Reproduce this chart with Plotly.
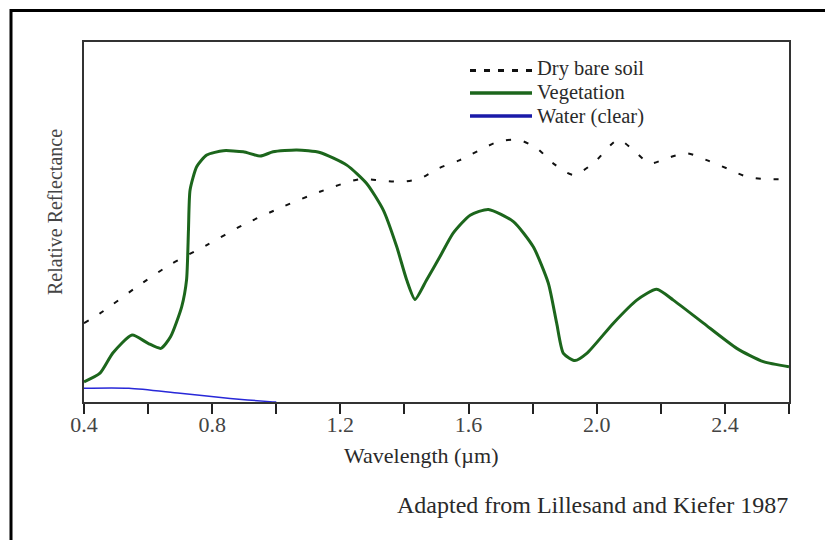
import plotly.graph_objects as go

# ---- data (wavelength in µm, relative reflectance in arbitrary units 0-100) ----
soil_wl = [0.40, 0.45, 0.559, 0.668, 0.783, 0.897, 1.022, 1.136, 1.261, 1.33, 1.391, 1.449,
           1.506, 1.573, 1.693, 1.755, 1.813, 1.864, 1.927, 1.989, 2.067, 2.114, 2.166,
           2.218, 2.281, 2.343, 2.406, 2.468, 2.535, 2.60]
soil_refl = [21.9, 24.6, 31.6, 38.1, 43.6, 49.2, 54.3, 58.4, 61.9, 61.5, 61.2, 62.1,
             64.9, 67.2, 72.3, 72.8, 70.5, 66.3, 63.1, 66.3, 72.8, 70.0, 66.3,
             67.7, 69.1, 67.2, 64.9, 62.6, 61.9, 61.9]

veg_wl = [0.40, 0.45, 0.49, 0.55, 0.60, 0.64, 0.67, 0.705, 0.72, 0.726, 0.731, 0.752, 0.783,
          0.835, 0.897, 0.95, 0.99, 1.064, 1.136, 1.22, 1.282, 1.334, 1.376, 1.407, 1.433,
          1.469, 1.511, 1.552, 1.605, 1.662, 1.74, 1.802, 1.849, 1.875, 1.896, 1.932,
          1.969, 2.052, 2.125, 2.187, 2.239, 2.333, 2.437, 2.52, 2.60]
veg_refl = [5.6, 8.0, 13.6, 18.6, 16.3, 14.9, 18.1, 26.5, 33.9, 47.8, 58.9, 65.4, 68.6,
            69.8, 69.5, 68.3, 69.5, 70.0, 69.3, 65.8, 60.7, 53.3, 43.1, 33.9, 28.5,
            33.9, 40.4, 46.9, 51.9, 53.5, 50.1, 43.1, 33.0, 21.9, 13.5, 11.5,
            13.5, 21.9, 28.3, 31.3, 28.3, 21.9, 14.9, 11.2, 9.8]

water_wl = [0.40, 0.54, 0.70, 0.856, 0.98, 1.00]
water_refl = [3.8, 3.8, 2.4, 1.0, 0.1, 0.0]

x_ticks = [0.4, 0.6, 0.8, 1.0, 1.2, 1.4, 1.6, 1.8, 2.0, 2.2, 2.4, 2.6]
x_tick_labels = ["0.4", "", "0.8", "", "1.2", "", "1.6", "", "2.0", "", "2.4", ""]

names = ["Dry bare soil", "Vegetation", "Water (clear)"]

FONT = "Liberation Serif"
TXT = "#2a2a2a"
GREEN = "#1c661c"
BLUE = "#2828d8"

fig = go.Figure()
fig.add_trace(go.Scatter(x=soil_wl, y=soil_refl, mode="lines", name=names[0],
                         line=dict(color="#111111", width=2, dash="5px,13px", shape="spline", smoothing=0.8),
                         showlegend=False, hoverinfo="skip"))
fig.add_trace(go.Scatter(x=veg_wl, y=veg_refl, mode="lines", name=names[1],
                         line=dict(color=GREEN, width=3, shape="spline", smoothing=0.6),
                         showlegend=False, hoverinfo="skip"))
fig.add_trace(go.Scatter(x=water_wl, y=water_refl, mode="lines", name=names[2],
                         line=dict(color=BLUE, width=1.5, shape="spline", smoothing=0.8),
                         showlegend=False, hoverinfo="skip"))

W, H = 833, 540
OFF = 8  # page body margin of the html page
L, R, T, B = 84, 789, 42, 402  # plot area in screenshot pixels


def px(xp):
    return (xp - L) / (R - L)


def py(yp):
    return (B - yp) / (B - T)


shapes = []
# outer frame (cut off at right and bottom in the reference)
shapes.append(dict(type="rect", xref="paper", yref="paper",
                   x0=px(11), x1=px(860), y0=py(580), y1=py(10.5),
                   line=dict(color="#000000", width=3), layer="above"))
# custom legend symbols
leg_y = [70.5, 93, 116]
leg_styles = [dict(color="#111111", width=3, dash="6px,8px"),
              dict(color=GREEN, width=3.5),
              dict(color="#1a1aa8", width=3.5)]
for yy, st in zip(leg_y, leg_styles):
    shapes.append(dict(type="line", xref="paper", yref="paper",
                       x0=px(470), x1=px(532), y0=py(yy), y1=py(yy), line=st))

annotations = []
text_y = [69, 92.5, 116]
for name, yy in zip(names, text_y):
    annotations.append(dict(text=name, xref="paper", yref="paper", x=px(535), y=py(yy),
                            xanchor="left", yanchor="middle", showarrow=False,
                            font=dict(family=FONT, size=20.5, color=TXT)))
annotations.append(dict(text="Relative Reflectance", xref="paper", yref="paper",
                        x=px(55), y=py(212), textangle=-90, xanchor="center", yanchor="middle",
                        showarrow=False, font=dict(family=FONT, size=20, color="#444444")))
annotations.append(dict(text="Wavelength (µm)", xref="paper", yref="paper",
                        x=px(421), y=py(455), xanchor="center", yanchor="middle",
                        showarrow=False, font=dict(family=FONT, size=22, color=TXT)))
annotations.append(dict(text="Adapted from Lillesand and Kiefer 1987", xref="paper", yref="paper",
                        x=px(790), y=py(505), xanchor="right", yanchor="middle",
                        showarrow=False, font=dict(family=FONT, size=24, color=TXT)))

fig.update_layout(
    width=W, height=H,
    margin=dict(l=L - OFF, r=W - (R - OFF), t=T - OFF, b=H - (B - OFF)),
    paper_bgcolor="white", plot_bgcolor="white",
    showlegend=False,
    shapes=shapes, annotations=annotations,
    xaxis=dict(range=[0.4, 2.6], tickmode="array", tickvals=x_ticks, ticktext=x_tick_labels,
               ticks="outside", ticklen=10, tickwidth=2, tickcolor="#222222",
               ticklabelstandoff=-8,
               showline=True, linecolor="#333333", linewidth=2, mirror=True,
               showgrid=False, zeroline=False,
               tickfont=dict(family=FONT, size=22, color="#444444")),
    yaxis=dict(range=[0, 100], showticklabels=False, ticks="",
               showline=True, linecolor="#333333", linewidth=2, mirror=True,
               showgrid=False, zeroline=False),
)

fig.write_html("out.html")
